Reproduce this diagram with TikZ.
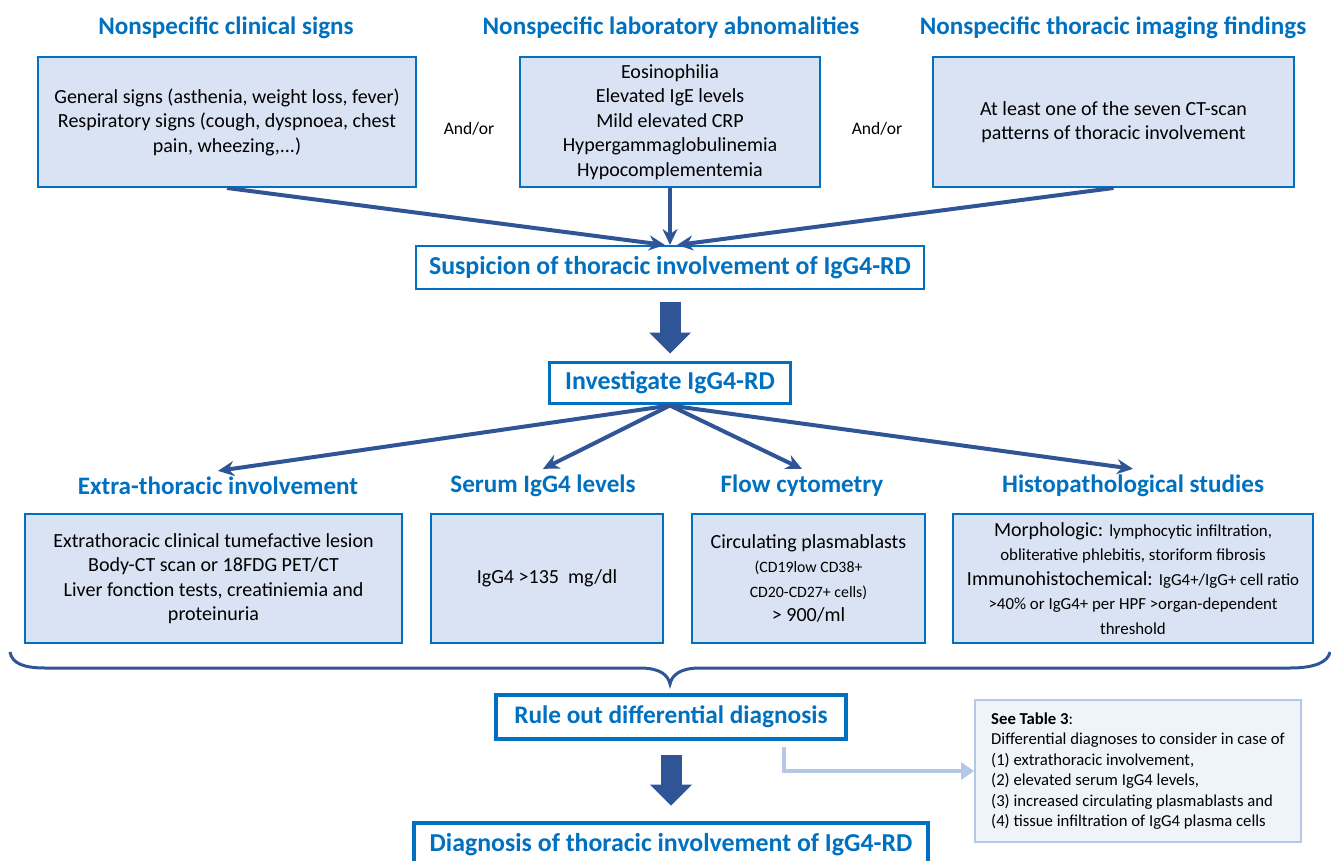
\documentclass[tikz,border=0pt]{standalone}
\usepackage{fontspec}
\setmainfont{Carlito}
\usetikzlibrary{arrows.meta}

\definecolor{boxblue}{RGB}{0,112,192}
\definecolor{boxfill}{RGB}{218,227,243}
\definecolor{arrowblue}{RGB}{47,85,151}
\definecolor{noteblue}{RGB}{180,199,231}
\definecolor{notefill}{RGB}{239,243,250}

\begin{document}
\begin{tikzpicture}[x=0.02cm, y=-0.02cm,
    heading/.style={text=boxblue, font=\fontsize{14.3}{17}\selectfont\bfseries},
    infobox/.style={draw=boxblue, line width=0.04cm, fill=boxfill, align=center, minimum height=2.6cm, font=\fontsize{11.4}{13.9}\selectfont},
    stage/.style={draw=boxblue, fill=white, text=boxblue, font=\fontsize{14.7}{18}\selectfont\bfseries},
    link/.style={draw=arrowblue, line width=0.08cm, -{Stealth[length=0.32cm, width=0.3cm]}},
    bigarrow/.style={draw=arrowblue, line width=0.42cm, -{Triangle[length=0.42cm, width=0.84cm, line width'=0pt]}},
  ]
    \useasboundingbox (0,0) rectangle (1331,861);

    % Nonspecific findings
    \node[heading] (clinT) at (226,28) {Nonspecific clinical signs};
    \node[heading] (labT) at (671,28) {Nonspecific laboratory abnomalities};
    \node[heading] (imgT) at (1113,28) {Nonspecific thoracic imaging findings};

    \node[infobox, minimum width=7.56cm] (clin) at (227,122) {
      General signs (asthenia, weight loss, fever)\\Respiratory signs (cough, dyspnoea, chest\\pain, wheezing,...)
    };
    \node[infobox, minimum width=6.02cm] (lab) at (670,122) {
      Eosinophilia\\Elevated IgE levels\\Mild elevated CRP\\Hypergammaglobulinemia\\Hypocomplementemia
    };
    \node[infobox, minimum width=7.22cm] (img) at (1113.5,122) {
      At least one of the seven CT-scan\\patterns of thoracic involvement
    };

    \node[font=\fontsize{10}{12}\selectfont] (andA) at (469,129) {And/or};
    \node[font=\fontsize{10}{12}\selectfont] (andB) at (877,129) {And/or};

    % Suspicion and work-up
    \node[stage, line width=0.04cm, minimum width=10.16cm, minimum height=0.86cm] (susp) at (670,267.5) {Suspicion of thoracic involvement of IgG4-RD};
    \node[stage, line width=0.06cm, minimum width=4.82cm, minimum height=0.84cm] (inv) at (670,383) {Investigate IgG4-RD};

    \draw[link] (clin.south) -- ([xshift=-0.1cm]susp.north);
    \draw[link] (lab.south) -- (lab.south |- susp.north);
    \draw[link] (img.south) -- ([xshift=0.14cm]susp.north);
    \draw[bigarrow] ([yshift=-0.24cm]susp.south) -- ([yshift=0.14cm]inv.north);

    % Investigations
    \node[heading] (extraT) at (218,486) {Extra-thoracic involvement};
    \node[heading] (serumT) at (543,486) {Serum IgG4 levels};
    \node[heading] (flowT) at (802,486) {Flow cytometry};
    \node[heading] (histoT) at (1133,486) {Histopathological studies};

    \node[infobox, minimum width=7.54cm] (extra) at (213.5,578.5) {
      Extrathoracic clinical tumefactive lesion\\Body-CT scan or 18FDG PET/CT\\Liver fonction tests, creatiniemia and\\proteinuria
    };
    \node[infobox, minimum width=4.64cm] (serum) at (547,578.5) {IgG4 >135~ mg/dl};
    \node[infobox, minimum width=4.66cm] (flow) at (808.5,578.5) {
      Circulating plasmablasts\\{\fontsize{9}{11}\selectfont (CD19low CD38+}\\{\fontsize{9}{11}\selectfont CD20-CD27+ cells)}\\> 900/ml
    };
    \node[infobox, minimum width=7.2cm] (histo) at (1133,578.5) {
      Morphologic: {\fontsize{9.6}{11}\selectfont lymphocytic infiltration,}\\
      {\fontsize{9.6}{11}\selectfont obliterative phlebitis, storiform fibrosis}\\
      Immunohistochemical: {\fontsize{9.6}{11}\selectfont IgG4+/IgG+ cell ratio}\\
      {\fontsize{9.6}{11}\selectfont >40\% or IgG4+ per HPF >organ-dependent}\\
      {\fontsize{9.6}{11}\selectfont threshold}
    };

    \draw[link] (inv.south) -- (extraT.north);
    \draw[link] (inv.south) -- (serumT.north);
    \draw[link] (inv.south) -- (flowT.north);
    \draw[link] (inv.south) -- (histoT.north);

    % Brace gathering the investigations
    \draw[arrowblue, line width=0.06cm] (10,652) .. controls (12,664) and (25,668) .. (45,668) -- (640,668)
      .. controls (660,668) and (668,675) .. (670,684) .. controls (672,675) and (680,668) .. (700,668)
      -- (1290,668) .. controls (1315,668) and (1328,662) .. (1330,652);

    % Differential diagnosis and conclusion
    \node[stage, line width=0.08cm, minimum width=7cm, minimum height=0.88cm, font=\fontsize{14.4}{18}\selectfont\bfseries] (rule) at (671,717) {Rule out differential diagnosis};
    \node[stage, line width=0.08cm, minimum width=10.3cm, minimum height=0.9cm] (diag) at (671,845) {Diagnosis of thoracic involvement of IgG4-RD};
    \draw[bigarrow] ([yshift=-0.28cm]rule.south) -- ([yshift=0.3cm]diag.north);

    \node[draw=noteblue, line width=0.04cm, fill=notefill, minimum width=6.52cm, minimum height=2.84cm, align=left, font=\fontsize{9.5}{11.7}\selectfont] (note) at (1138,771) {
      \textbf{See Table 3}:\\Differential diagnoses to consider in case of\\(1) extrathoracic involvement,\\(2) elevated serum IgG4 levels,\\(3) increased circulating plasmablasts and\\(4) tissue infiltration of IgG4 plasma cells
    };
    \draw[draw=noteblue, line width=0.08cm, -{Triangle[length=0.26cm, width=0.34cm]}] ([xshift=2.26cm, yshift=-0.12cm]rule.south) |- (note.west);
\end{tikzpicture}
\end{document}
